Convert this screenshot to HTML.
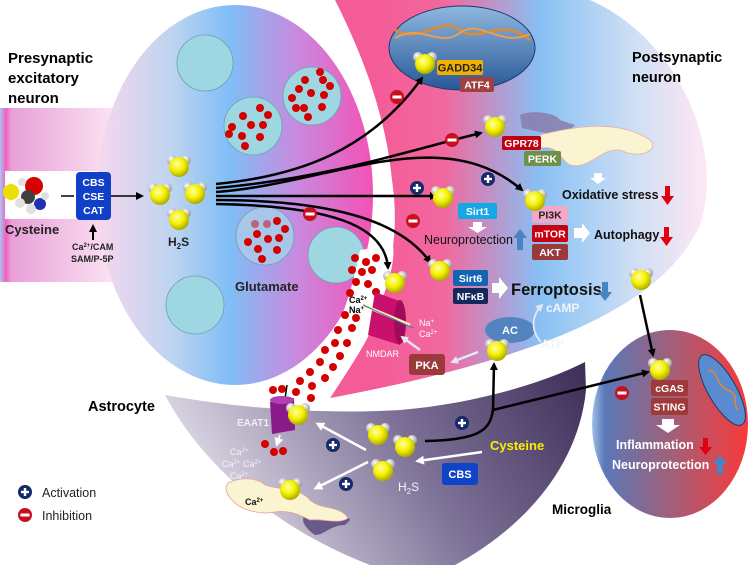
<!DOCTYPE html>
<html><head><meta charset="utf-8"><style>
html,body{margin:0;padding:0;background:#fff;}
svg{display:block;font-family:"Liberation Sans",sans-serif;}
.b{font-weight:bold;}
</style></head><body>
<svg width="750" height="565" viewBox="0 0 750 565" xmlns="http://www.w3.org/2000/svg">
<defs>
<linearGradient id="pre" x1="95" y1="0" x2="375" y2="0" gradientUnits="userSpaceOnUse">
<stop offset="0" stop-color="#f8d8ee"/><stop offset="0.28" stop-color="#bcd4f0"/><stop offset="0.48" stop-color="#80bef6"/><stop offset="0.72" stop-color="#c88ade"/><stop offset="1" stop-color="#f450b4"/></linearGradient>
<linearGradient id="axon" x1="0" y1="0" x2="115" y2="0" gradientUnits="userSpaceOnUse">
<stop offset="0" stop-color="#a8c8f0"/><stop offset="0.05" stop-color="#f060c0"/><stop offset="0.1" stop-color="#e8a0d8"/><stop offset="1" stop-color="#fbe4f2"/></linearGradient>
<linearGradient id="post" x1="380" y1="0" x2="700" y2="0" gradientUnits="userSpaceOnUse">
<stop offset="0" stop-color="#f45c98"/><stop offset="0.2" stop-color="#f2689e"/><stop offset="0.5" stop-color="#88c0f4"/><stop offset="0.8" stop-color="#d0e0f4"/><stop offset="1" stop-color="#fbe6f4"/></linearGradient>
<linearGradient id="astro" x1="580" y1="360" x2="250" y2="560" gradientUnits="userSpaceOnUse">
<stop offset="0" stop-color="#3e2e58"/><stop offset="0.5" stop-color="#7e7298"/><stop offset="1" stop-color="#dcd8e4"/></linearGradient>
<linearGradient id="micro" x1="592" y1="0" x2="748" y2="0" gradientUnits="userSpaceOnUse">
<stop offset="0" stop-color="#a0c0e8"/><stop offset="0.08" stop-color="#5a78b8"/><stop offset="0.5" stop-color="#a0607a"/><stop offset="1" stop-color="#f83a3a"/></linearGradient>
<linearGradient id="nuc" x1="0" y1="5" x2="0" y2="88" gradientUnits="userSpaceOnUse">
<stop offset="0" stop-color="#90b8e0"/><stop offset="1" stop-color="#2a5a98"/></linearGradient>
<radialGradient id="ys" cx="0.4" cy="0.35" r="0.7"><stop offset="0" stop-color="#ffffa0"/><stop offset="0.5" stop-color="#f4f000"/><stop offset="1" stop-color="#a0a000"/></radialGradient>
<radialGradient id="wh" cx="0.4" cy="0.35" r="0.7"><stop offset="0" stop-color="#fff"/><stop offset="1" stop-color="#909090"/></radialGradient>
<g id="h2s"><circle cx="-7" cy="-6" r="5" fill="url(#wh)"/><circle cx="7" cy="-6" r="5" fill="url(#wh)"/><circle cx="0" cy="1" r="10" fill="url(#ys)"/></g>
<g id="plus"><circle r="7" fill="#142a6a"/><rect x="-4" y="-1.2" width="8" height="2.4" fill="#fff"/><rect x="-1.2" y="-4" width="2.4" height="8" fill="#fff"/></g>
<g id="minus"><circle r="7" fill="#c80f1e"/><rect x="-4.5" y="-1.5" width="9" height="3" fill="#fff"/></g>
<marker id="ah" markerWidth="8" markerHeight="8" refX="6" refY="4" orient="auto" markerUnits="userSpaceOnUse"><path d="M0,0 L8,4 L0,8 Z" fill="#000"/></marker>
<marker id="wah" markerWidth="9" markerHeight="9" refX="6" refY="4.5" orient="auto" markerUnits="userSpaceOnUse"><path d="M0,0 L9,4.5 L0,9 Z" fill="#fff"/></marker>
<marker id="lah" markerWidth="8" markerHeight="8" refX="6" refY="4" orient="auto" markerUnits="userSpaceOnUse"><path d="M0,0 L8,4 L0,8 Z" fill="#e4e8f4"/></marker>
</defs>

<rect x="0" y="108" width="115" height="174" fill="url(#axon)"/>
<rect x="5" y="171" width="100" height="48" fill="#fff"/>
<ellipse cx="235" cy="195" rx="138" ry="190" fill="url(#pre)"/>

<path d="M335,0 L590,0 C680,40 725,150 700,225 C665,300 560,355 330,398 C355,360 375,330 378,310 C395,260 398,220 392,180 C385,110 360,50 335,0 Z" fill="url(#post)"/>

<path d="M165,395 C250,410 330,414 400,410 C470,404 540,385 585,362 L586,390 C578,470 520,530 455,565 L370,565 C280,530 205,470 165,395 Z" fill="url(#astro)"/>

<ellipse cx="670" cy="424" rx="78" ry="94" fill="url(#micro)"/>

<g stroke="#6aa0b0" stroke-width="0.8" fill="#9ed6e2">
<circle cx="205" cy="63" r="28"/>
<circle cx="253" cy="126" r="29"/>
<circle cx="312" cy="96" r="29"/>
<circle cx="265" cy="236" r="29" fill="#a8c6ea"/>
<circle cx="195" cy="305" r="29"/>
<circle cx="336" cy="255" r="28"/>
</g>
<g fill="#d40000">
<circle cx="260" cy="108" r="4"/><circle cx="243" cy="116" r="4"/><circle cx="268" cy="115" r="4"/><circle cx="232" cy="127" r="4"/><circle cx="251" cy="125" r="4"/><circle cx="263" cy="125" r="4"/><circle cx="242" cy="136" r="4"/><circle cx="260" cy="137" r="4"/><circle cx="245" cy="146" r="4"/><circle cx="229" cy="134" r="4"/>
<circle cx="320" cy="72" r="4"/><circle cx="305" cy="80" r="4"/><circle cx="323" cy="80" r="4"/><circle cx="330" cy="86" r="4"/><circle cx="299" cy="89" r="4"/><circle cx="311" cy="93" r="4"/><circle cx="324" cy="95" r="4"/><circle cx="292" cy="98" r="4"/><circle cx="304" cy="108" r="4"/><circle cx="322" cy="107" r="4"/><circle cx="308" cy="117" r="4"/><circle cx="296" cy="108" r="4"/>
<circle cx="255" cy="224" r="4" opacity="0.5"/><circle cx="267" cy="224" r="4" opacity="0.5"/><circle cx="277" cy="221" r="4"/><circle cx="285" cy="229" r="4"/><circle cx="257" cy="234" r="4"/><circle cx="268" cy="239" r="4"/><circle cx="279" cy="238" r="4"/><circle cx="248" cy="242" r="4"/><circle cx="258" cy="249" r="4"/><circle cx="277" cy="250" r="4"/><circle cx="262" cy="259" r="4"/>
</g>

<path d="M360,250 C350,300 340,330 300,395 L330,398 C355,360 375,330 378,310 C390,280 395,260 393,245 Z" fill="#fff"/>
<path d="M300,395 C280,400 268,405 262,400 L270,385 Z" fill="#fff"/>
<g fill="#d40000">
<circle cx="355" cy="258" r="4"/><circle cx="366" cy="262" r="4"/><circle cx="376" cy="258" r="4"/><circle cx="352" cy="270" r="4"/><circle cx="362" cy="272" r="4"/><circle cx="372" cy="270" r="4"/><circle cx="356" cy="282" r="4"/><circle cx="368" cy="284" r="4"/><circle cx="350" cy="293" r="4"/><circle cx="376" cy="292" r="4"/>
<circle cx="345" cy="315" r="4"/><circle cx="356" cy="318" r="4"/><circle cx="338" cy="330" r="4"/><circle cx="352" cy="328" r="4"/><circle cx="335" cy="343" r="4"/><circle cx="347" cy="343" r="4"/><circle cx="325" cy="350" r="4"/><circle cx="340" cy="356" r="4"/><circle cx="320" cy="362" r="4"/><circle cx="333" cy="367" r="4"/><circle cx="310" cy="372" r="4"/><circle cx="325" cy="378" r="4"/><circle cx="300" cy="381" r="4"/><circle cx="312" cy="386" r="4"/><circle cx="282" cy="389" r="4"/><circle cx="296" cy="392" r="4"/><circle cx="273" cy="390" r="4"/><circle cx="311" cy="398" r="4"/>
<circle cx="265" cy="444" r="4"/><circle cx="274" cy="452" r="4"/><circle cx="283" cy="451" r="4"/>
</g>

<path d="M375,292 L402,302 L400,345 L368,335 Z" fill="#c8106c"/>
<ellipse cx="400" cy="322" rx="6" ry="22" fill="#a00a58"/>
<path d="M363,305 L410,325" stroke="#f8f0a0" stroke-width="3"/>
<path d="M363,305 L413,328" stroke="#4070c0" stroke-width="1"/>
<text x="349" y="303" font-size="9" class="b" fill="#000">Ca<tspan font-size="6" dy="-3">2+</tspan></text>
<text x="349" y="313" font-size="9" class="b" fill="#000">Na<tspan font-size="6" dy="-3">+</tspan></text>
<text x="419" y="326" font-size="9" fill="#fff">Na<tspan font-size="6" dy="-3">+</tspan></text>
<text x="419" y="337" font-size="9" fill="#fff">Ca<tspan font-size="6" dy="-3">2+</tspan></text>
<text x="366" y="357" font-size="9" fill="#fff">NMDAR</text>

<ellipse cx="462" cy="48" rx="73" ry="42" fill="url(#nuc)" stroke="#1a3a6a" stroke-width="1"/>
<path d="M395,30 C420,45 440,15 460,30 C480,45 500,15 530,40" stroke="#e08a30" stroke-width="2.5" fill="none"/>
<path d="M395,38 C420,23 440,48 460,33 C480,18 500,48 530,34" stroke="#e8a050" stroke-width="2" fill="none"/>
<rect x="437" y="60" width="46" height="15" rx="2" fill="#f0b000"/>
<text x="460" y="71.5" font-size="11" class="b" text-anchor="middle" fill="#222">GADD34</text>
<rect x="460" y="77" width="34" height="15" rx="2" fill="#a04040"/>
<text x="477" y="88.5" font-size="10.5" class="b" text-anchor="middle" fill="#fff">ATF4</text>

<text x="632" y="62" font-size="14.5" class="b" fill="#000">Postsynaptic</text>
<text x="632" y="82" font-size="14.5" class="b" fill="#000">neuron</text>

<path d="M520,115 C530,110 555,112 560,120 L575,125 L565,135 L540,132 L522,128 Z" fill="#8a78a8" opacity="0.8"/>
<path d="M540,135 C580,125 620,120 650,140 C660,150 640,160 620,150 C600,148 590,170 570,165 C560,160 560,145 540,148 Z" fill="#fbf4d0" stroke="#e8b0a0" stroke-width="0.8"/>
<rect x="502" y="136" width="39" height="14" rx="2" fill="#c00010"/>
<text x="521.5" y="147" font-size="10.5" class="b" text-anchor="middle" fill="#fff">GPR78</text>
<rect x="524" y="151" width="37" height="15" rx="2" fill="#70904a"/>
<text x="542.5" y="162.5" font-size="10.5" class="b" text-anchor="middle" fill="#fff">PERK</text>
<path d="M594,173 L602,173 L602,178 L606,178 L598,184 L590,178 L594,178 Z" fill="#fff"/>
<text x="562" y="199" font-size="12.5" class="b" fill="#111">Oxidative stress</text>
<path d="M665,186 L670,186 L670,196 L674,196 L667.5,205 L661,196 L665,196 Z" fill="#e00010"/>

<rect x="458" y="203" width="39" height="16" rx="2" fill="#14a8e4"/>
<text x="477.5" y="215" font-size="10.5" class="b" text-anchor="middle" fill="#fff">Sirt1</text>
<path d="M473,222 L482,222 L482,227 L487,227 L477.5,233 L468,227 L473,227 Z" fill="#fff"/>
<text x="424" y="244" font-size="12.5" fill="#111">Neuroprotection</text>
<path d="M517,250 L523,250 L523,238 L527,238 L520,229 L513,238 L517,238 Z" fill="#4a84c0"/>

<rect x="532" y="206" width="36" height="17" rx="2" fill="#f4a8c8"/>
<text x="550" y="218.5" font-size="10.5" class="b" text-anchor="middle" fill="#222">PI3K</text>
<rect x="532" y="225" width="36" height="17" rx="2" fill="#c80010"/>
<text x="550" y="237.5" font-size="10.5" class="b" text-anchor="middle" fill="#fff">mTOR</text>
<rect x="532" y="244" width="36" height="16" rx="2" fill="#9a3a3a"/>
<text x="550" y="256" font-size="10.5" class="b" text-anchor="middle" fill="#fff">AKT</text>
<path d="M574,228 L582,228 L582,223 L590,233 L582,243 L582,238 L574,238 Z" fill="#fff"/>
<text x="594" y="239" font-size="12.5" class="b" fill="#111">Autophagy</text>
<path d="M664,227 L669,227 L669,237 L673,237 L666.5,246 L660,237 L664,237 Z" fill="#e00010"/>

<rect x="453" y="270" width="35" height="16" rx="2" fill="#1464b4"/>
<text x="470.5" y="282" font-size="10.5" class="b" text-anchor="middle" fill="#fff">Sirt6</text>
<rect x="453" y="288" width="35" height="16" rx="2" fill="#14285c"/>
<text x="470.5" y="300" font-size="10.5" class="b" text-anchor="middle" fill="#fff">NFκB</text>
<path d="M492,283 L499,283 L499,277 L508,288 L499,299 L499,293 L492,293 Z" fill="#fff"/>
<text x="511" y="295" font-size="16.5" class="b" fill="#111">Ferroptosis</text>
<path d="M602,282 L608,282 L608,292 L612,292 L605,301 L598,292 L602,292 Z" fill="#4a84c0"/>

<ellipse cx="510" cy="330" rx="25" ry="13" fill="#5484c0"/>
<text x="510" y="334" font-size="11" class="b" text-anchor="middle" fill="#fff">AC</text>
<path d="M541,342 C530,330 532,315 542,305" stroke="#e4e8f4" stroke-width="1.8" fill="none" marker-end="url(#lah)"/>
<text x="546" y="312" font-size="12" class="b" fill="#f0f4fc">cAMP</text>
<text x="541" y="348" font-size="12" class="b" fill="#f0f4fc">ATP</text>
<rect x="409" y="354" width="36" height="21" rx="3" fill="#9a3a3a"/>
<text x="427" y="369" font-size="11" class="b" text-anchor="middle" fill="#fff">PKA</text>
<path d="M478,352 L452,362" stroke="#e4e8f4" stroke-width="2.5" marker-end="url(#lah)"/>
<path d="M420,350 L402,337" stroke="#e4e8f4" stroke-width="2.5" marker-end="url(#lah)"/>

<g stroke="#000" stroke-width="2.5" fill="none" marker-end="url(#ah)">
<path d="M216,184 C300,176 370,150 422,78"/>
<path d="M216,188 C330,178 410,150 481,133"/>
<path d="M216,192 C330,184 440,120 522,190"/>
<path d="M216,196 L436,196"/>
<path d="M216,200 C330,200 400,220 430,262"/>
<path d="M216,204 C330,206 385,225 388,268"/>
<path d="M640,295 L653,355"/>
<path d="M425,441 C480,440 490,430 493,410 L494,364"/>
<path d="M493,410 L648,372"/>
</g>

<text x="88" y="411" font-size="14.5" class="b" fill="#000">Astrocyte</text>
<line x1="287" y1="385" x2="285" y2="399" stroke="#000" stroke-width="1.5"/>
<path d="M270,402 L294,398 L295,430 L272,434 Z" fill="#8a1a8a"/>
<ellipse cx="282" cy="400" rx="12" ry="4" fill="#b040b0"/>
<text x="237" y="426" font-size="10" class="b" fill="#f0eef4">EAAT1</text>
<path d="M280,435 L277,444" stroke="#fff" stroke-width="1.8" marker-end="url(#wah)"/>
<g font-size="9" fill="#f4f2f8">
<text x="230" y="455">Ca<tspan font-size="6" dy="-3">2+</tspan></text>
<text x="222" y="467">Ca<tspan font-size="6" dy="-3">2+</tspan></text>
<text x="243" y="467">Ca<tspan font-size="6" dy="-3">2+</tspan></text>
<text x="230" y="479">Ca<tspan font-size="6" dy="-3">2+</tspan></text>
</g>
<path d="M305,515 C320,500 345,510 350,520 L345,525 C330,525 325,535 315,535 C305,528 300,520 305,515 Z" fill="#5a4a80" opacity="0.85"/>
<path d="M228,483 C245,475 260,480 265,485 C280,490 300,488 310,500 C320,510 340,505 348,518 C340,525 320,518 310,520 C300,515 290,510 275,512 C260,515 240,510 232,500 C225,493 225,487 228,483 Z" fill="#fbf4d0" stroke="#e8a0a0" stroke-width="0.8"/>
<text x="245" y="505" font-size="9" class="b" fill="#111">Ca<tspan font-size="6" dy="-3">2+</tspan></text>
<path d="M366,450 L318,424" stroke="#fff" stroke-width="2.5" marker-end="url(#wah)"/>
<path d="M368,462 L316,488" stroke="#fff" stroke-width="2.5" marker-end="url(#wah)"/>
<text x="490" y="450" font-size="13" class="b" fill="#f4f000">Cysteine</text>
<path d="M482,452 L418,461" stroke="#fff" stroke-width="2.5" marker-end="url(#wah)"/>
<rect x="442" y="463" width="36" height="22" rx="3" fill="#1044c8"/>
<text x="460" y="478" font-size="11" class="b" text-anchor="middle" fill="#fff">CBS</text>
<text x="398" y="491" font-size="12" fill="#f4f2f8">H<tspan font-size="8" dy="3">2</tspan><tspan dy="-3">S</tspan></text>

<ellipse cx="722" cy="390" rx="14" ry="40" transform="rotate(-30 722 390)" fill="#5a8ad0" stroke="#1a3a6a" stroke-width="1"/>
<path d="M708,370 C720,372 715,385 728,390 C740,395 732,405 738,410" stroke="#e08a30" stroke-width="1.5" fill="none"/>
<rect x="651" y="380" width="37" height="16" rx="2" fill="#a03a3a"/>
<text x="669.5" y="392" font-size="10.5" class="b" text-anchor="middle" fill="#fff">cGAS</text>
<rect x="651" y="398" width="37" height="17" rx="2" fill="#a03a3a"/>
<text x="669.5" y="410.5" font-size="10.5" class="b" text-anchor="middle" fill="#fff">STING</text>
<path d="M662,419 L674,419 L674,425 L680,425 L668,433 L656,425 L662,425 Z" fill="#fff"/>
<text x="616" y="449" font-size="12.5" class="b" fill="#fff">Inflammation</text>
<path d="M703,438 L708,438 L708,447 L712,447 L705.5,455 L699,447 L703,447 Z" fill="#e00010"/>
<text x="612" y="469" font-size="12.5" class="b" fill="#fff">Neuroprotection</text>
<path d="M717,474 L723,474 L723,464 L727,464 L720,455 L713,464 L717,464 Z" fill="#4a84c0"/>
<text x="552" y="514" font-size="13.5" class="b" fill="#000">Microglia</text>

<text x="8" y="63" font-size="15" class="b" fill="#000">Presynaptic</text>
<text x="8" y="83" font-size="15" class="b" fill="#000">excitatory</text>
<text x="8" y="103" font-size="15" class="b" fill="#000">neuron</text>
<circle cx="11" cy="192" r="8" fill="#e8e000"/>
<circle cx="34" cy="186" r="9" fill="#d80000"/>
<circle cx="28" cy="197" r="7" fill="#404040"/>
<circle cx="40" cy="204" r="6" fill="#2030b0"/>
<circle cx="20" cy="203" r="5" fill="#e0e0e0"/><circle cx="31" cy="209" r="5" fill="#e0e0e0"/><circle cx="45" cy="196" r="4" fill="#e0e0e0"/><circle cx="22" cy="182" r="4" fill="#e0e0e0"/>
<text x="5" y="234" font-size="13" class="b" fill="#222">Cysteine</text>
<line x1="61" y1="196" x2="74" y2="196" stroke="#000" stroke-width="1.5"/>
<rect x="76" y="172" width="35" height="48" rx="4" fill="#1040c8"/>
<text x="93.5" y="186" font-size="10.5" class="b" text-anchor="middle" fill="#fff">CBS</text>
<text x="93.5" y="200" font-size="10.5" class="b" text-anchor="middle" fill="#fff">CSE</text>
<text x="93.5" y="214" font-size="10.5" class="b" text-anchor="middle" fill="#fff">CAT</text>
<line x1="111" y1="196" x2="142" y2="196" stroke="#000" stroke-width="1.5" marker-end="url(#ah)"/>
<line x1="93" y1="240" x2="93" y2="226" stroke="#000" stroke-width="2" marker-end="url(#ah)"/>
<text x="72" y="250" font-size="9" class="b" fill="#222">Ca<tspan font-size="6" dy="-3">2+</tspan><tspan dy="3">/CAM</tspan></text>
<text x="71" y="262" font-size="9" class="b" fill="#222">SAM/P-5P</text>
<text x="168" y="246" font-size="12" class="b" fill="#222">H<tspan font-size="8" dy="3">2</tspan><tspan dy="-3">S</tspan></text>
<text x="235" y="291" font-size="13" class="b" fill="#222">Glutamate</text>

<use href="#h2s" x="179" y="166"/>
<use href="#h2s" x="160" y="194"/>
<use href="#h2s" x="195" y="193"/>
<use href="#h2s" x="179" y="219"/>
<use href="#h2s" x="425" y="63"/>
<use href="#h2s" x="495" y="126"/>
<use href="#h2s" x="443" y="197"/>
<use href="#h2s" x="535" y="200"/>
<use href="#h2s" x="440" y="270"/>
<use href="#h2s" x="395" y="282"/>
<use href="#h2s" x="641" y="279"/>
<use href="#h2s" x="497" y="350"/>
<use href="#h2s" x="298" y="414"/>
<use href="#h2s" x="290" y="489"/>
<use href="#h2s" x="378" y="434"/>
<use href="#h2s" x="405" y="446"/>
<use href="#h2s" x="383" y="470"/>
<use href="#h2s" x="660" y="369"/>

<use href="#minus" x="310" y="214"/>
<use href="#minus" x="397" y="97"/>
<use href="#minus" x="452" y="140"/>
<use href="#minus" x="413" y="221"/>
<use href="#minus" x="622" y="393"/>
<use href="#plus" x="417" y="188"/>
<use href="#plus" x="488" y="179"/>
<use href="#plus" x="333" y="445"/>
<use href="#plus" x="346" y="484"/>
<use href="#plus" x="462" y="423"/>
<use href="#plus" x="25" y="492"/>
<use href="#minus" x="25" y="515"/>
<text x="42" y="497" font-size="12.5" fill="#222">Activation</text>
<text x="42" y="520" font-size="12.5" fill="#222">Inhibition</text>
</svg>
</body></html>
